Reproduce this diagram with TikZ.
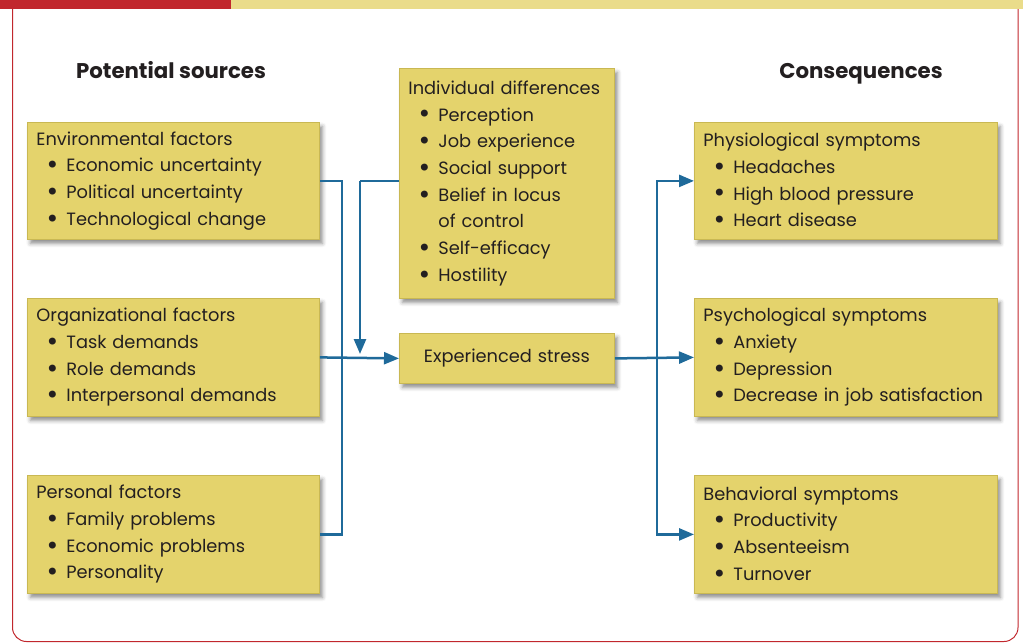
\documentclass[tikz,border=0pt]{standalone}
\usepackage{fontspec}
\setmainfont{Poppins}
\newfontfamily\bulfont{DejaVu Sans}
\usetikzlibrary{arrows.meta,shadows.blur}
\definecolor{boxfill}{HTML}{E4D36C}
\definecolor{boxline}{HTML}{C9B853}
\definecolor{connblue}{HTML}{1F6A9A}
\definecolor{barred}{HTML}{C1272D}
\definecolor{baryel}{HTML}{EADC8A}
\definecolor{txt}{HTML}{231F20}
\newcommand\bitem[1]{\makebox[30pt][l]{\hspace{9pt}\raisebox{-1.8pt}{\bulfont\fontsize{24}{24}\selectfont •}}#1}
\begin{document}
\begin{tikzpicture}[x=1pt,y=-1pt,
 box/.style={draw=boxline, line width=0.8pt, fill=boxfill, anchor=north west, align=left,
   inner xsep=9pt, inner ysep=0pt, font=\fontsize{17.8}{26.7}\selectfont, text=txt,
   blur shadow={shadow xshift=3pt, shadow yshift=-4pt, shadow blur radius=4pt, shadow opacity=45}},
 hdr/.style={font=\bfseries\fontsize{21.3}{26}\selectfont, text=txt, anchor=base},
 link/.style={draw=connblue, line width=2.5pt},
 arr/.style={link, -{Triangle[length=15pt,width=12pt]}}]
\useasboundingbox (0,0) rectangle (1023,643);
% frame and top bar
\draw[barred, line width=1pt, rounded corners=14pt] (12.5,8) -- (12.5,641.5) -- (1018,641.5) -- (1018,8);
\fill[barred] (0,0) rectangle (231,8.5);
\fill[baryel] (231,0) rectangle (1023,8.5);
% headers
\node[hdr] (hsrc) at (171,78.5) {Potential sources};
\node[hdr] (hcon) at (861,78.5) {Consequences};
% left boxes
\node[box, text width=274pt, minimum height=117pt] (env) at (27,122) {Environmental factors\\
\bitem{Economic uncertainty}\\ \bitem{Political uncertainty}\\ \bitem{Technological change}};
\node[box, text width=274pt, minimum height=118pt] (org) at (27,298) {Organizational factors\\
\bitem{Task demands}\\ \bitem{Role demands}\\ \bitem{Interpersonal demands}};
\node[box, text width=274pt, minimum height=118pt] (pers) at (27,475) {Personal factors\\
\bitem{Family problems}\\ \bitem{Economic problems}\\ \bitem{Personality}};
% middle boxes
\node[box, text width=197pt, minimum height=230pt] (ind) at (399,68) {Individual differences\\
\bitem{Perception}\\ \bitem{Job experience}\\ \bitem{Social support}\\ \bitem{Belief in locus}\\
\hspace*{30pt}of control\\ \bitem{Self-efficacy}\\ \bitem{Hostility}};
\node[box, text width=197pt, minimum height=50pt, align=center] (stress) at (399,333) {Experienced stress};
% right boxes
\node[box, text width=285pt, minimum height=117pt] (phys) at (694,122) {Physiological symptoms\\
\bitem{Headaches}\\ \bitem{High blood pressure}\\ \bitem{Heart disease}};
\node[box, text width=285pt, minimum height=118pt] (psych) at (694,298) {Psychological symptoms\\
\bitem{Anxiety}\\ \bitem{Depression}\\ \bitem{Decrease in job satisfaction}};
\node[box, text width=285pt, minimum height=118pt] (behav) at (694,475) {Behavioral symptoms\\
\bitem{Productivity}\\ \bitem{Absenteeism}\\ \bitem{Turnover}};
% junctions
\coordinate (jL) at (342,358);
\coordinate (jI) at (360,181);
\coordinate (jIe) at (360,354);
\coordinate (jR) at (657,358);
% connectors
\draw[link] (env.east) -| (jL);
\draw[link] (pers.east) -| (jL);
\draw[arr] (org.east) -- (stress.west);
\draw[link] (ind.west |- jI) -- (jI);
\draw[arr] (jI) -- (jIe);
\draw[arr] (stress.east) -- (psych.west);
\draw[arr] (jR) |- (phys.west);
\draw[arr] (jR) |- (behav.west);
\end{tikzpicture}
\end{document}
